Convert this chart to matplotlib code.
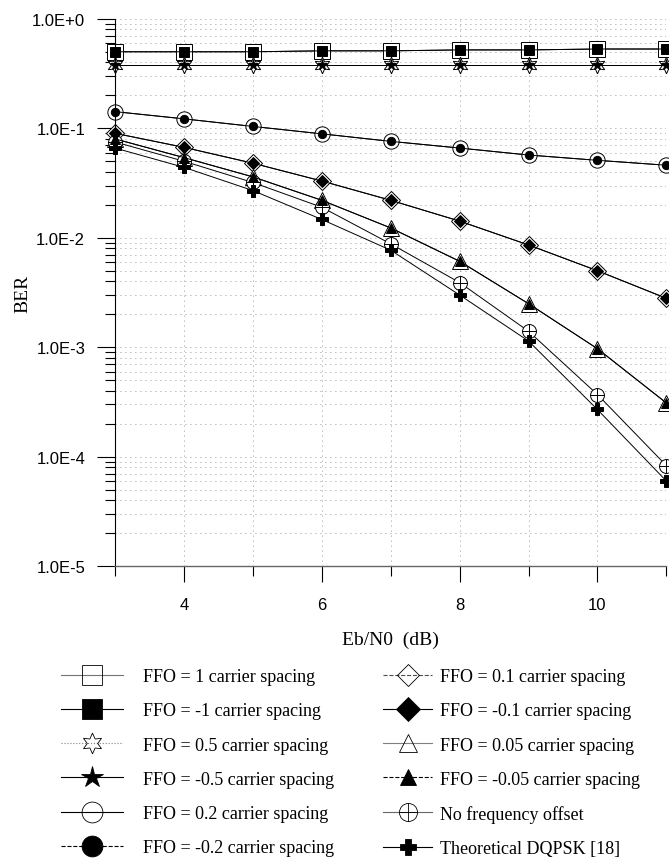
import numpy as np
import matplotlib
matplotlib.use("Agg")
import matplotlib.pyplot as plt
from matplotlib.path import Path
from matplotlib.lines import Line2D
from matplotlib.ticker import FixedLocator, LogLocator, NullFormatter, FuncFormatter

ebn0 = [3, 4, 5, 6, 7, 8, 9, 10, 11]

ber_ffo_1 = [0.50, 0.50, 0.50, 0.51, 0.51, 0.52, 0.52, 0.53, 0.53]
ber_ffo_m1 = [0.50, 0.50, 0.50, 0.51, 0.51, 0.52, 0.52, 0.53, 0.53]
ber_ffo_05 = [0.375, 0.375, 0.375, 0.375, 0.375, 0.375, 0.375, 0.375, 0.375]
ber_ffo_m05 = [0.375, 0.375, 0.375, 0.375, 0.375, 0.375, 0.375, 0.375, 0.375]
ber_ffo_02 = [0.142, 0.122, 0.104, 0.089, 0.076, 0.066, 0.057, 0.051, 0.046]
ber_ffo_m02 = [0.142, 0.122, 0.104, 0.089, 0.076, 0.066, 0.057, 0.051, 0.046]
ber_ffo_01 = [0.090, 0.067, 0.048, 0.033, 0.022, 0.0142, 0.0086, 0.0050, 0.0028]
ber_ffo_m01 = [0.090, 0.067, 0.048, 0.033, 0.022, 0.0142, 0.0086, 0.0050, 0.0028]
ber_ffo_005 = [0.080, 0.054, 0.036, 0.022, 0.0123, 0.0061, 0.0025, 0.00097, 0.00031]
ber_ffo_m005 = [0.080, 0.054, 0.036, 0.022, 0.0123, 0.0061, 0.0025, 0.00097, 0.00031]
ber_no_offset = [0.075, 0.050, 0.032, 0.019, 0.0088, 0.0039, 0.0014, 0.00037, 0.000083]
ber_theory = [0.066, 0.044, 0.027, 0.0147, 0.0077, 0.0030, 0.00114, 0.00027, 0.000060]

labels = [
    "FFO = 1 carrier spacing", "FFO = -1 carrier spacing",
    "FFO = 0.5 carrier spacing", "FFO = -0.5 carrier spacing",
    "FFO = 0.2 carrier spacing", "FFO = -0.2 carrier spacing",
    "FFO = 0.1 carrier spacing", "FFO = -0.1 carrier spacing",
    "FFO = 0.05 carrier spacing", "FFO = -0.05 carrier spacing",
    "No frequency offset", "Theoretical DQPSK [18]",
]

# custom markers
oplus = Path.make_compound_path(
    Path.unit_circle(),
    Path([[-1, 0], [1, 0]], [Path.MOVETO, Path.LINETO]),
    Path([[0, -1], [0, 1]], [Path.MOVETO, Path.LINETO]),
)
hexstar = (6, 1, 0)

serif = ["Liberation Serif", "DejaVu Serif"]
sans = ["Liberation Sans", "DejaVu Sans"]

fig = plt.figure(figsize=(6.69, 8.62), dpi=100)
ax = fig.add_axes([0.172, 0.342, 0.824, 0.635])

# (data, marker, filled, plot size, legend size, legend linestyle, legend line colour)
series = [
    (ber_ffo_1, "s", False, 11, 14, "-", "0.45"),
    (ber_ffo_m1, "s", True, 7, 14, "-", "black"),
    (ber_ffo_05, hexstar, False, 12, 15, ":", "0.5"),
    (ber_ffo_m05, "*", True, 8, 16, "-", "black"),
    (ber_ffo_02, "o", False, 11, 15, "-", "black"),
    (ber_ffo_m02, "o", True, 6, 15, "--", "black"),
    (ber_ffo_01, "D", False, 9, 11, "--", "0.3"),
    (ber_ffo_m01, "D", True, 6, 12, "-", "black"),
    (ber_ffo_005, "^", False, 11, 13, "-", "0.5"),
    (ber_ffo_m005, "^", True, 7, 12, "--", "black"),
    (ber_no_offset, oplus, False, 10, 13, "-", "0.4"),
    (ber_theory, "P", True, 9, 12, "-", "black"),
]

handles = []
for (data, mk, filled, ms, lms, ls, col), lab in zip(series, labels):
    ax.plot(ebn0, data, color="black", lw=0.7, ls="-",
            marker=mk, markersize=ms,
            markerfacecolor="black" if filled else "white",
            markeredgecolor="black", markeredgewidth=0.7,
            zorder=3 if filled else 2, clip_on=False)
    handles.append(Line2D([0], [0], color=col, lw=0.8, ls=ls,
                          marker=mk, markersize=lms,
                          markerfacecolor="black" if filled else "none",
                          markeredgecolor="black", markeredgewidth=0.6))

ax.set_yscale("log")
ax.set_xlim(3, 11)
ax.set_ylim(1e-5, 1)

ax.xaxis.set_major_locator(FixedLocator([4, 6, 8, 10]))
ax.xaxis.set_minor_locator(FixedLocator([3, 5, 7, 9, 11]))
ax.yaxis.set_major_locator(LogLocator(base=10, numticks=10))
ax.yaxis.set_minor_locator(LogLocator(base=10, subs=np.arange(2, 10), numticks=20))
ax.yaxis.set_minor_formatter(NullFormatter())


def sci(v, pos):
    e = int(round(np.log10(v)))
    return f"1.0E{e:+d}" if e >= 0 else f"1.0E{e}"


ax.yaxis.set_major_formatter(FuncFormatter(sci))

ax.grid(True, which="both", color="0.45", lw=0.6, ls=(0, (1, 5)))

for s in ["top", "right"]:
    ax.spines[s].set_visible(False)
ax.spines["left"].set_linewidth(0.8)
ax.spines["bottom"].set_color("0.4")
ax.spines["bottom"].set_linewidth(1.0)

ax.tick_params(axis="y", which="major", direction="out", length=13, width=0.8, pad=8.5)
ax.tick_params(axis="y", which="minor", direction="out", length=7, width=0.8)
ax.tick_params(axis="x", which="major", direction="out", length=11.5, width=0.8, pad=11)
ax.tick_params(axis="x", which="minor", direction="out", length=7, width=0.8)

for t in ax.get_yticklabels() + ax.get_xticklabels():
    t.set_family(sans)
    t.set_fontsize(12)

ax.set_ylabel("BER", family=serif, fontsize=14)
ax.yaxis.set_label_coords(-0.152, 0.5)
ax.set_xlabel("Eb/N0  (dB)", family=serif, fontsize=14, labelpad=13)

leg_kw = dict(loc="upper left", frameon=False,
              prop={"family": serif, "size": 13},
              labelspacing=0.95, borderaxespad=0)
leg1 = fig.legend(handles[:6], labels[:6], bbox_to_anchor=(0.081, 0.232),
                  handlelength=3.4, handletextpad=1.1, **leg_kw)
leg2 = fig.legend(handles[6:], labels[6:], bbox_to_anchor=(0.562, 0.232),
                  handlelength=2.7, handletextpad=0.45, **leg_kw)

fig.savefig("out.png", dpi=100)
